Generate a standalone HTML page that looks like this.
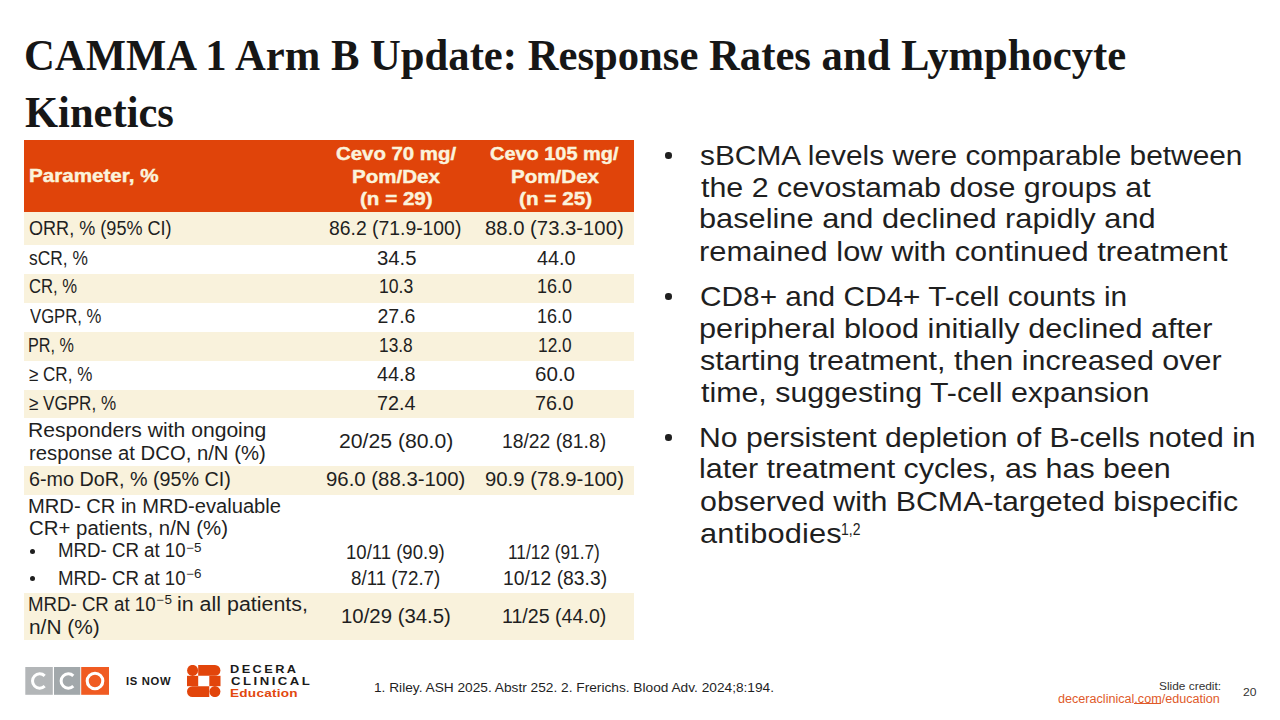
<!DOCTYPE html>
<html><head><meta charset="utf-8"><title>CAMMA 1 Arm B Update</title><style>
html,body{margin:0;padding:0;background:#fff;width:1280px;height:720px;overflow:hidden;position:relative}
.t{position:absolute;white-space:nowrap;transform-origin:0 0;}
.abs{position:absolute}
.r{position:absolute;left:24px;width:610px}
.dot{position:absolute;border-radius:50%;background:#1f1f1f}
</style></head><body>
<div class="r" style="top:140px;height:72px;background:#e0440a"></div>
<div class="r" style="top:212px;height:33px;background:#f9f2dc"></div>
<div class="r" style="top:274px;height:29px;background:#f9f2dc"></div>
<div class="r" style="top:332px;height:29px;background:#f9f2dc"></div>
<div class="r" style="top:390px;height:28px;background:#f9f2dc"></div>
<div class="r" style="top:466px;height:29px;background:#f9f2dc"></div>
<div class="r" style="top:593px;height:47px;background:#f9f2dc"></div>
<div class="dot" style="left:665.3000000000001px;top:152.2px;width:6.6px;height:6.6px"></div>
<div class="dot" style="left:665.3000000000001px;top:293.05px;width:6.6px;height:6.6px"></div>
<div class="dot" style="left:665.3000000000001px;top:434.05px;width:6.6px;height:6.6px"></div>
<div class="dot" style="left:30.0px;top:549.1px;width:5.2px;height:5.2px"></div>
<div class="dot" style="left:30.0px;top:576.3px;width:5.2px;height:5.2px"></div>
<div class="t" style="left:24.10px;top:33.00px;font-size:45px;line-height:45px;font-family:'Liberation Serif', serif;font-weight:bold;color:#161616;letter-spacing:0.000px;transform:scaleX(0.9482)">CAMMA 1 Arm B Update: Response Rates and Lymphocyte</div>
<div class="t" style="left:25.05px;top:90.00px;font-size:45px;line-height:45px;font-family:'Liberation Serif', serif;font-weight:bold;color:#161616;letter-spacing:0.000px;transform:scaleX(0.9455)">Kinetics</div>
<div class="t" style="left:699.91px;top:142.00px;font-size:27.5px;line-height:27.5px;font-family:'Liberation Sans', sans-serif;font-weight:normal;color:#1f1f1f;letter-spacing:0.000px;transform:scaleX(1.0853)">sBCMA levels were comparable between</div>
<div class="t" style="left:701.00px;top:174.00px;font-size:27.5px;line-height:27.5px;font-family:'Liberation Sans', sans-serif;font-weight:normal;color:#1f1f1f;letter-spacing:0.000px;transform:scaleX(1.1057)">the 2 cevostamab dose groups at</div>
<div class="t" style="left:698.76px;top:205.00px;font-size:27.5px;line-height:27.5px;font-family:'Liberation Sans', sans-serif;font-weight:normal;color:#1f1f1f;letter-spacing:0.000px;transform:scaleX(1.1185)">baseline and declined rapidly and</div>
<div class="t" style="left:698.76px;top:238.00px;font-size:27.5px;line-height:27.5px;font-family:'Liberation Sans', sans-serif;font-weight:normal;color:#1f1f1f;letter-spacing:0.030px;transform:scaleX(1.1200)">remained low with continued treatment</div>
<div class="t" style="left:699.92px;top:283.00px;font-size:27.5px;line-height:27.5px;font-family:'Liberation Sans', sans-serif;font-weight:normal;color:#1f1f1f;letter-spacing:0.000px;transform:scaleX(1.0844)">CD8+ and CD4+ T-cell counts in</div>
<div class="t" style="left:698.77px;top:315.00px;font-size:27.5px;line-height:27.5px;font-family:'Liberation Sans', sans-serif;font-weight:normal;color:#1f1f1f;letter-spacing:0.000px;transform:scaleX(1.1157)">peripheral blood initially declined after</div>
<div class="t" style="left:699.89px;top:347.00px;font-size:27.5px;line-height:27.5px;font-family:'Liberation Sans', sans-serif;font-weight:normal;color:#1f1f1f;letter-spacing:0.000px;transform:scaleX(1.1079)">starting treatment, then increased over</div>
<div class="t" style="left:701.00px;top:379.00px;font-size:27.5px;line-height:27.5px;font-family:'Liberation Sans', sans-serif;font-weight:normal;color:#1f1f1f;letter-spacing:0.000px;transform:scaleX(1.1040)">time, suggesting T-cell expansion</div>
<div class="t" style="left:698.81px;top:424.00px;font-size:27.5px;line-height:27.5px;font-family:'Liberation Sans', sans-serif;font-weight:normal;color:#1f1f1f;letter-spacing:0.000px;transform:scaleX(1.0968)">No persistent depletion of B-cells noted in</div>
<div class="t" style="left:698.79px;top:455.00px;font-size:27.5px;line-height:27.5px;font-family:'Liberation Sans', sans-serif;font-weight:normal;color:#1f1f1f;letter-spacing:0.000px;transform:scaleX(1.1061)">later treatment cycles, as has been</div>
<div class="t" style="left:699.90px;top:488.00px;font-size:27.5px;line-height:27.5px;font-family:'Liberation Sans', sans-serif;font-weight:normal;color:#1f1f1f;letter-spacing:0.000px;transform:scaleX(1.1037)">observed with BCMA-targeted bispecific</div>
<div class="t" style="left:699.88px;top:520.00px;font-size:27.5px;line-height:27.5px;font-family:'Liberation Sans', sans-serif;font-weight:normal;color:#1f1f1f;letter-spacing:0.113px;transform:scaleX(1.1200)">antibodies</div>
<div class="t" style="left:840.98px;top:521.00px;font-size:17px;line-height:17px;font-family:'Liberation Sans', sans-serif;font-weight:normal;color:#1f1f1f;letter-spacing:0.000px;transform:scaleX(0.8227)">1,2</div>
<div class="t" style="left:28.92px;top:166.00px;font-size:19px;line-height:19px;font-family:'Liberation Sans', sans-serif;font-weight:bold;color:#fbf3dc;letter-spacing:0.000px;-webkit-text-stroke:0.45px #fbf3dc;transform:scaleX(1.0847)">Parameter, %</div>
<div class="t" style="left:335.83px;top:144.00px;font-size:19px;line-height:19px;font-family:'Liberation Sans', sans-serif;font-weight:bold;color:#fbf3dc;letter-spacing:0.000px;-webkit-text-stroke:0.45px #fbf3dc;transform:scaleX(1.0730)">Cevo 70 mg/</div>
<div class="t" style="left:351.92px;top:167.00px;font-size:19px;line-height:19px;font-family:'Liberation Sans', sans-serif;font-weight:bold;color:#fbf3dc;letter-spacing:0.000px;-webkit-text-stroke:0.45px #fbf3dc;transform:scaleX(1.0800)">Pom/Dex</div>
<div class="t" style="left:359.52px;top:189.00px;font-size:19px;line-height:19px;font-family:'Liberation Sans', sans-serif;font-weight:bold;color:#fbf3dc;letter-spacing:0.000px;-webkit-text-stroke:0.45px #fbf3dc;transform:scaleX(1.0831)">(n = 29)</div>
<div class="t" style="left:489.95px;top:144.00px;font-size:19px;line-height:19px;font-family:'Liberation Sans', sans-serif;font-weight:bold;color:#fbf3dc;letter-spacing:0.000px;-webkit-text-stroke:0.45px #fbf3dc;transform:scaleX(1.0492)">Cevo 105 mg/</div>
<div class="t" style="left:510.82px;top:167.00px;font-size:19px;line-height:19px;font-family:'Liberation Sans', sans-serif;font-weight:bold;color:#fbf3dc;letter-spacing:0.000px;-webkit-text-stroke:0.45px #fbf3dc;transform:scaleX(1.0825)">Pom/Dex</div>
<div class="t" style="left:518.66px;top:189.00px;font-size:19px;line-height:19px;font-family:'Liberation Sans', sans-serif;font-weight:bold;color:#fbf3dc;letter-spacing:0.000px;-webkit-text-stroke:0.45px #fbf3dc;transform:scaleX(1.0900)">(n = 25)</div>
<div class="t" style="left:29.07px;top:219.00px;font-size:19.5px;line-height:19.5px;font-family:'Liberation Sans', sans-serif;font-weight:normal;color:#1f1f1f;letter-spacing:0.000px;transform:scaleX(0.9270)">ORR, % (95% CI)</div>
<div class="t" style="left:329.26px;top:219.00px;font-size:19.5px;line-height:19.5px;font-family:'Liberation Sans', sans-serif;font-weight:normal;color:#1f1f1f;letter-spacing:0.000px;transform:scaleX(0.9924)">86.2 (71.9-100)</div>
<div class="t" style="left:485.46px;top:219.00px;font-size:19.5px;line-height:19.5px;font-family:'Liberation Sans', sans-serif;font-weight:normal;color:#1f1f1f;letter-spacing:0.000px;transform:scaleX(1.0401)">88.0 (73.3-100)</div>
<div class="t" style="left:29.11px;top:249.00px;font-size:19.5px;line-height:19.5px;font-family:'Liberation Sans', sans-serif;font-weight:normal;color:#1f1f1f;letter-spacing:0.000px;transform:scaleX(0.8906)">sCR, %</div>
<div class="t" style="left:376.71px;top:249.00px;font-size:19.5px;line-height:19.5px;font-family:'Liberation Sans', sans-serif;font-weight:normal;color:#1f1f1f;letter-spacing:0.000px;transform:scaleX(1.0417)">34.5</div>
<div class="t" style="left:536.50px;top:249.00px;font-size:19.5px;line-height:19.5px;font-family:'Liberation Sans', sans-serif;font-weight:normal;color:#1f1f1f;letter-spacing:0.000px;transform:scaleX(1.0135)">44.0</div>
<div class="t" style="left:29.15px;top:277.00px;font-size:19.5px;line-height:19.5px;font-family:'Liberation Sans', sans-serif;font-weight:normal;color:#1f1f1f;letter-spacing:0.000px;transform:scaleX(0.8545)">CR, %</div>
<div class="t" style="left:379.35px;top:277.00px;font-size:19.5px;line-height:19.5px;font-family:'Liberation Sans', sans-serif;font-weight:normal;color:#1f1f1f;letter-spacing:0.000px;transform:scaleX(0.9028)">10.3</div>
<div class="t" style="left:536.83px;top:277.00px;font-size:19.5px;line-height:19.5px;font-family:'Liberation Sans', sans-serif;font-weight:normal;color:#1f1f1f;letter-spacing:0.000px;transform:scaleX(0.9236)">16.0</div>
<div class="t" style="left:30.00px;top:307.00px;font-size:19.5px;line-height:19.5px;font-family:'Liberation Sans', sans-serif;font-weight:normal;color:#1f1f1f;letter-spacing:0.000px;transform:scaleX(0.8554)">VGPR, %</div>
<div class="t" style="left:377.50px;top:307.00px;font-size:19.5px;line-height:19.5px;font-family:'Liberation Sans', sans-serif;font-weight:normal;color:#1f1f1f;letter-spacing:0.000px;transform:scaleX(1.0000)">27.6</div>
<div class="t" style="left:536.83px;top:307.00px;font-size:19.5px;line-height:19.5px;font-family:'Liberation Sans', sans-serif;font-weight:normal;color:#1f1f1f;letter-spacing:0.000px;transform:scaleX(0.9236)">16.0</div>
<div class="t" style="left:28.34px;top:336.00px;font-size:19.5px;line-height:19.5px;font-family:'Liberation Sans', sans-serif;font-weight:normal;color:#1f1f1f;letter-spacing:0.000px;transform:scaleX(0.8302)">PR, %</div>
<div class="t" style="left:379.36px;top:336.00px;font-size:19.5px;line-height:19.5px;font-family:'Liberation Sans', sans-serif;font-weight:normal;color:#1f1f1f;letter-spacing:0.000px;transform:scaleX(0.8889)">13.8</div>
<div class="t" style="left:538.11px;top:336.00px;font-size:19.5px;line-height:19.5px;font-family:'Liberation Sans', sans-serif;font-weight:normal;color:#1f1f1f;letter-spacing:0.000px;transform:scaleX(0.8889)">12.0</div>
<div class="t" style="left:29.13px;top:365.00px;font-size:19.5px;line-height:19.5px;font-family:'Liberation Sans', sans-serif;font-weight:normal;color:#1f1f1f;letter-spacing:0.000px;transform:scaleX(0.8732)">≥ CR, %</div>
<div class="t" style="left:376.50px;top:365.00px;font-size:19.5px;line-height:19.5px;font-family:'Liberation Sans', sans-serif;font-weight:normal;color:#1f1f1f;letter-spacing:0.000px;transform:scaleX(1.0135)">44.8</div>
<div class="t" style="left:534.94px;top:365.00px;font-size:19.5px;line-height:19.5px;font-family:'Liberation Sans', sans-serif;font-weight:normal;color:#1f1f1f;letter-spacing:0.000px;transform:scaleX(1.0556)">60.0</div>
<div class="t" style="left:29.13px;top:394.00px;font-size:19.5px;line-height:19.5px;font-family:'Liberation Sans', sans-serif;font-weight:normal;color:#1f1f1f;letter-spacing:0.000px;transform:scaleX(0.8745)">≥ VGPR, %</div>
<div class="t" style="left:377.19px;top:394.00px;font-size:19.5px;line-height:19.5px;font-family:'Liberation Sans', sans-serif;font-weight:normal;color:#1f1f1f;letter-spacing:0.000px;transform:scaleX(1.0139)">72.4</div>
<div class="t" style="left:534.98px;top:394.00px;font-size:19.5px;line-height:19.5px;font-family:'Liberation Sans', sans-serif;font-weight:normal;color:#1f1f1f;letter-spacing:0.000px;transform:scaleX(1.0167)">76.0</div>
<div class="t" style="left:27.83px;top:421.00px;font-size:19.5px;line-height:19.5px;font-family:'Liberation Sans', sans-serif;font-weight:normal;color:#1f1f1f;letter-spacing:0.000px;transform:scaleX(1.0829)">Responders with ongoing</div>
<div class="t" style="left:28.96px;top:444.00px;font-size:19.5px;line-height:19.5px;font-family:'Liberation Sans', sans-serif;font-weight:normal;color:#1f1f1f;letter-spacing:0.000px;transform:scaleX(1.0400)">response at DCO, n/N (%)</div>
<div class="t" style="left:338.91px;top:432.00px;font-size:19.5px;line-height:19.5px;font-family:'Liberation Sans', sans-serif;font-weight:normal;color:#1f1f1f;letter-spacing:0.000px;transform:scaleX(1.0874)">20/25 (80.0)</div>
<div class="t" style="left:502.01px;top:432.00px;font-size:19.5px;line-height:19.5px;font-family:'Liberation Sans', sans-serif;font-weight:normal;color:#1f1f1f;letter-spacing:0.000px;transform:scaleX(0.9903)">18/22 (81.8)</div>
<div class="t" style="left:28.99px;top:470.00px;font-size:19.5px;line-height:19.5px;font-family:'Liberation Sans', sans-serif;font-weight:normal;color:#1f1f1f;letter-spacing:0.000px;transform:scaleX(1.0127)">6-mo DoR, % (95% CI)</div>
<div class="t" style="left:326.16px;top:470.00px;font-size:19.5px;line-height:19.5px;font-family:'Liberation Sans', sans-serif;font-weight:normal;color:#1f1f1f;letter-spacing:0.000px;transform:scaleX(1.0443)">96.0 (88.3-100)</div>
<div class="t" style="left:485.46px;top:470.00px;font-size:19.5px;line-height:19.5px;font-family:'Liberation Sans', sans-serif;font-weight:normal;color:#1f1f1f;letter-spacing:0.000px;transform:scaleX(1.0420)">90.9 (78.9-100)</div>
<div class="t" style="left:27.93px;top:497.00px;font-size:19.5px;line-height:19.5px;font-family:'Liberation Sans', sans-serif;font-weight:normal;color:#1f1f1f;letter-spacing:0.000px;transform:scaleX(1.0331)">MRD- CR in MRD-evaluable</div>
<div class="t" style="left:28.95px;top:519.00px;font-size:19.5px;line-height:19.5px;font-family:'Liberation Sans', sans-serif;font-weight:normal;color:#1f1f1f;letter-spacing:0.000px;transform:scaleX(1.0463)">CR+ patients, n/N (%)</div>
<div class="t" style="left:58.33px;top:541.00px;font-size:19.5px;line-height:19.5px;font-family:'Liberation Sans', sans-serif;font-weight:normal;color:#1f1f1f;letter-spacing:0.000px;transform:scaleX(0.9576)">MRD- CR at 10</div>
<div class="t" style="left:186.18px;top:542.00px;font-size:12px;line-height:12px;font-family:'Liberation Sans', sans-serif;font-weight:normal;color:#1f1f1f;letter-spacing:0.143px;transform:scaleX(1.1200)">−5</div>
<div class="t" style="left:58.33px;top:569.00px;font-size:19.5px;line-height:19.5px;font-family:'Liberation Sans', sans-serif;font-weight:normal;color:#1f1f1f;letter-spacing:0.000px;transform:scaleX(0.9576)">MRD- CR at 10</div>
<div class="t" style="left:186.18px;top:568.00px;font-size:12px;line-height:12px;font-family:'Liberation Sans', sans-serif;font-weight:normal;color:#1f1f1f;letter-spacing:0.143px;transform:scaleX(1.1200)">−6</div>
<div class="t" style="left:346.05px;top:543.00px;font-size:19.5px;line-height:19.5px;font-family:'Liberation Sans', sans-serif;font-weight:normal;color:#1f1f1f;letter-spacing:0.000px;transform:scaleX(0.9510)">10/11 (90.9)</div>
<div class="t" style="left:508.11px;top:543.00px;font-size:19.5px;line-height:19.5px;font-family:'Liberation Sans', sans-serif;font-weight:normal;color:#1f1f1f;letter-spacing:0.000px;transform:scaleX(0.8853)">11/12 (91.7)</div>
<div class="t" style="left:350.54px;top:569.00px;font-size:19.5px;line-height:19.5px;font-family:'Liberation Sans', sans-serif;font-weight:normal;color:#1f1f1f;letter-spacing:0.000px;transform:scaleX(0.9615)">8/11 (72.7)</div>
<div class="t" style="left:503.01px;top:569.00px;font-size:19.5px;line-height:19.5px;font-family:'Liberation Sans', sans-serif;font-weight:normal;color:#1f1f1f;letter-spacing:0.000px;transform:scaleX(0.9903)">10/12 (83.3)</div>
<div class="t" style="left:27.99px;top:595.00px;font-size:19.5px;line-height:19.5px;font-family:'Liberation Sans', sans-serif;font-weight:normal;color:#1f1f1f;letter-spacing:0.000px;transform:scaleX(0.9569)">MRD- CR at 10</div>
<div class="t" style="left:155.68px;top:594.00px;font-size:12px;line-height:12px;font-family:'Liberation Sans', sans-serif;font-weight:normal;color:#1f1f1f;letter-spacing:0.589px;transform:scaleX(1.1200)">−5</div>
<div class="t" style="left:176.80px;top:595.00px;font-size:19.5px;line-height:19.5px;font-family:'Liberation Sans', sans-serif;font-weight:normal;color:#1f1f1f;letter-spacing:0.000px;transform:scaleX(1.0983)">in all patients,</div>
<div class="t" style="left:28.93px;top:618.00px;font-size:19.5px;line-height:19.5px;font-family:'Liberation Sans', sans-serif;font-weight:normal;color:#1f1f1f;letter-spacing:0.000px;transform:scaleX(1.0703)">n/N (%)</div>
<div class="t" style="left:340.76px;top:607.00px;font-size:19.5px;line-height:19.5px;font-family:'Liberation Sans', sans-serif;font-weight:normal;color:#1f1f1f;letter-spacing:0.000px;transform:scaleX(1.0447)">10/29 (34.5)</div>
<div class="t" style="left:501.99px;top:607.00px;font-size:19.5px;line-height:19.5px;font-family:'Liberation Sans', sans-serif;font-weight:normal;color:#1f1f1f;letter-spacing:0.000px;transform:scaleX(1.0059)">11/25 (44.0)</div>
<div class="t" style="left:125.88px;top:677.00px;font-size:10px;line-height:10px;font-family:'Liberation Sans', sans-serif;font-weight:bold;color:#1a1a1a;letter-spacing:0.600px;transform:scaleX(1.1231)">IS NOW</div>
<div class="t" style="left:230.08px;top:664.00px;font-size:10.5px;line-height:10.5px;font-family:'Liberation Sans', sans-serif;font-weight:bold;color:#1a1a1a;letter-spacing:2.000px;transform:scaleX(1.2151)">DECERA</div>
<div class="t" style="left:231.30px;top:676.00px;font-size:10.5px;line-height:10.5px;font-family:'Liberation Sans', sans-serif;font-weight:bold;color:#1a1a1a;letter-spacing:2.000px;transform:scaleX(1.2524)">CLINICAL</div>
<div class="t" style="left:230.21px;top:688.00px;font-size:10.5px;line-height:10.5px;font-family:'Liberation Sans', sans-serif;font-weight:bold;color:#e2470e;letter-spacing:0.200px;transform:scaleX(1.2922)">Education</div>
<div class="t" style="left:373.74px;top:681.00px;font-size:13.5px;line-height:13.5px;font-family:'Liberation Sans', sans-serif;font-weight:normal;color:#1f1f1f;letter-spacing:0.000px;transform:scaleX(1.0147)">1. Riley. ASH 2025. Abstr 252. 2. Frerichs. Blood Adv. 2024;8:194.</div>
<div class="t" style="left:1158.62px;top:681.00px;font-size:11px;line-height:11px;font-family:'Liberation Sans', sans-serif;font-weight:normal;color:#333333;letter-spacing:0.000px;transform:scaleX(1.0804)">Slide credit:</div>
<div class="t" style="left:1058.45px;top:693.00px;font-size:12px;line-height:12px;font-family:'Liberation Sans', sans-serif;font-weight:normal;color:#e05a2a;letter-spacing:0.000px;transform:scaleX(1.0503)">deceraclinical.com/education</div>
<div class="t" style="left:1243.10px;top:687.00px;font-size:11px;line-height:11px;font-family:'Liberation Sans', sans-serif;font-weight:normal;color:#333333;letter-spacing:0.000px;transform:scaleX(1.1000)">20</div>
<svg class="abs" style="left:25px;top:667px" width="85" height="28" viewBox="0 0 85 28">
<rect x="0.3" y="0" width="27.5" height="27.8" fill="#b3b6b8"/>
<rect x="29" y="0" width="26.3" height="27.8" fill="#a2a8ab"/>
<rect x="56.2" y="0" width="27.8" height="27.8" fill="#f05b22"/>
<path d="M19.7 8.8 A7.2 7.2 0 1 0 19.7 19.2" fill="none" stroke="#fff" stroke-width="3"/>
<path d="M48.3 8.8 A7.2 7.2 0 1 0 48.3 19.2" fill="none" stroke="#fff" stroke-width="3"/>
<circle cx="70" cy="14" r="7.8" fill="none" stroke="#fff" stroke-width="3.1"/>
</svg>
<svg class="abs" style="left:187px;top:665px" width="34" height="32" viewBox="0 0 34 32">
<g fill="#e2450b">
<circle cx="5.6" cy="5.4" r="5.5"/>
<path d="M11.2 0 H28 A5.4 5.4 0 0 1 28 10.8 H11.2 Z"/>
<rect x="0" y="10.8" width="11.2" height="10.4"/>
<rect x="22.3" y="10.8" width="11.2" height="10.4"/>
<path d="M22.3 21.2 H5.4 A5.4 5.4 0 0 0 5.4 32 H22.3 Z"/>
<circle cx="27.9" cy="26.6" r="5.5"/>
</g></svg>
<div class="abs" style="left:1134.2px;top:703.2px;width:26.8px;height:1px;background:#e05a2a"></div>
</body></html>
